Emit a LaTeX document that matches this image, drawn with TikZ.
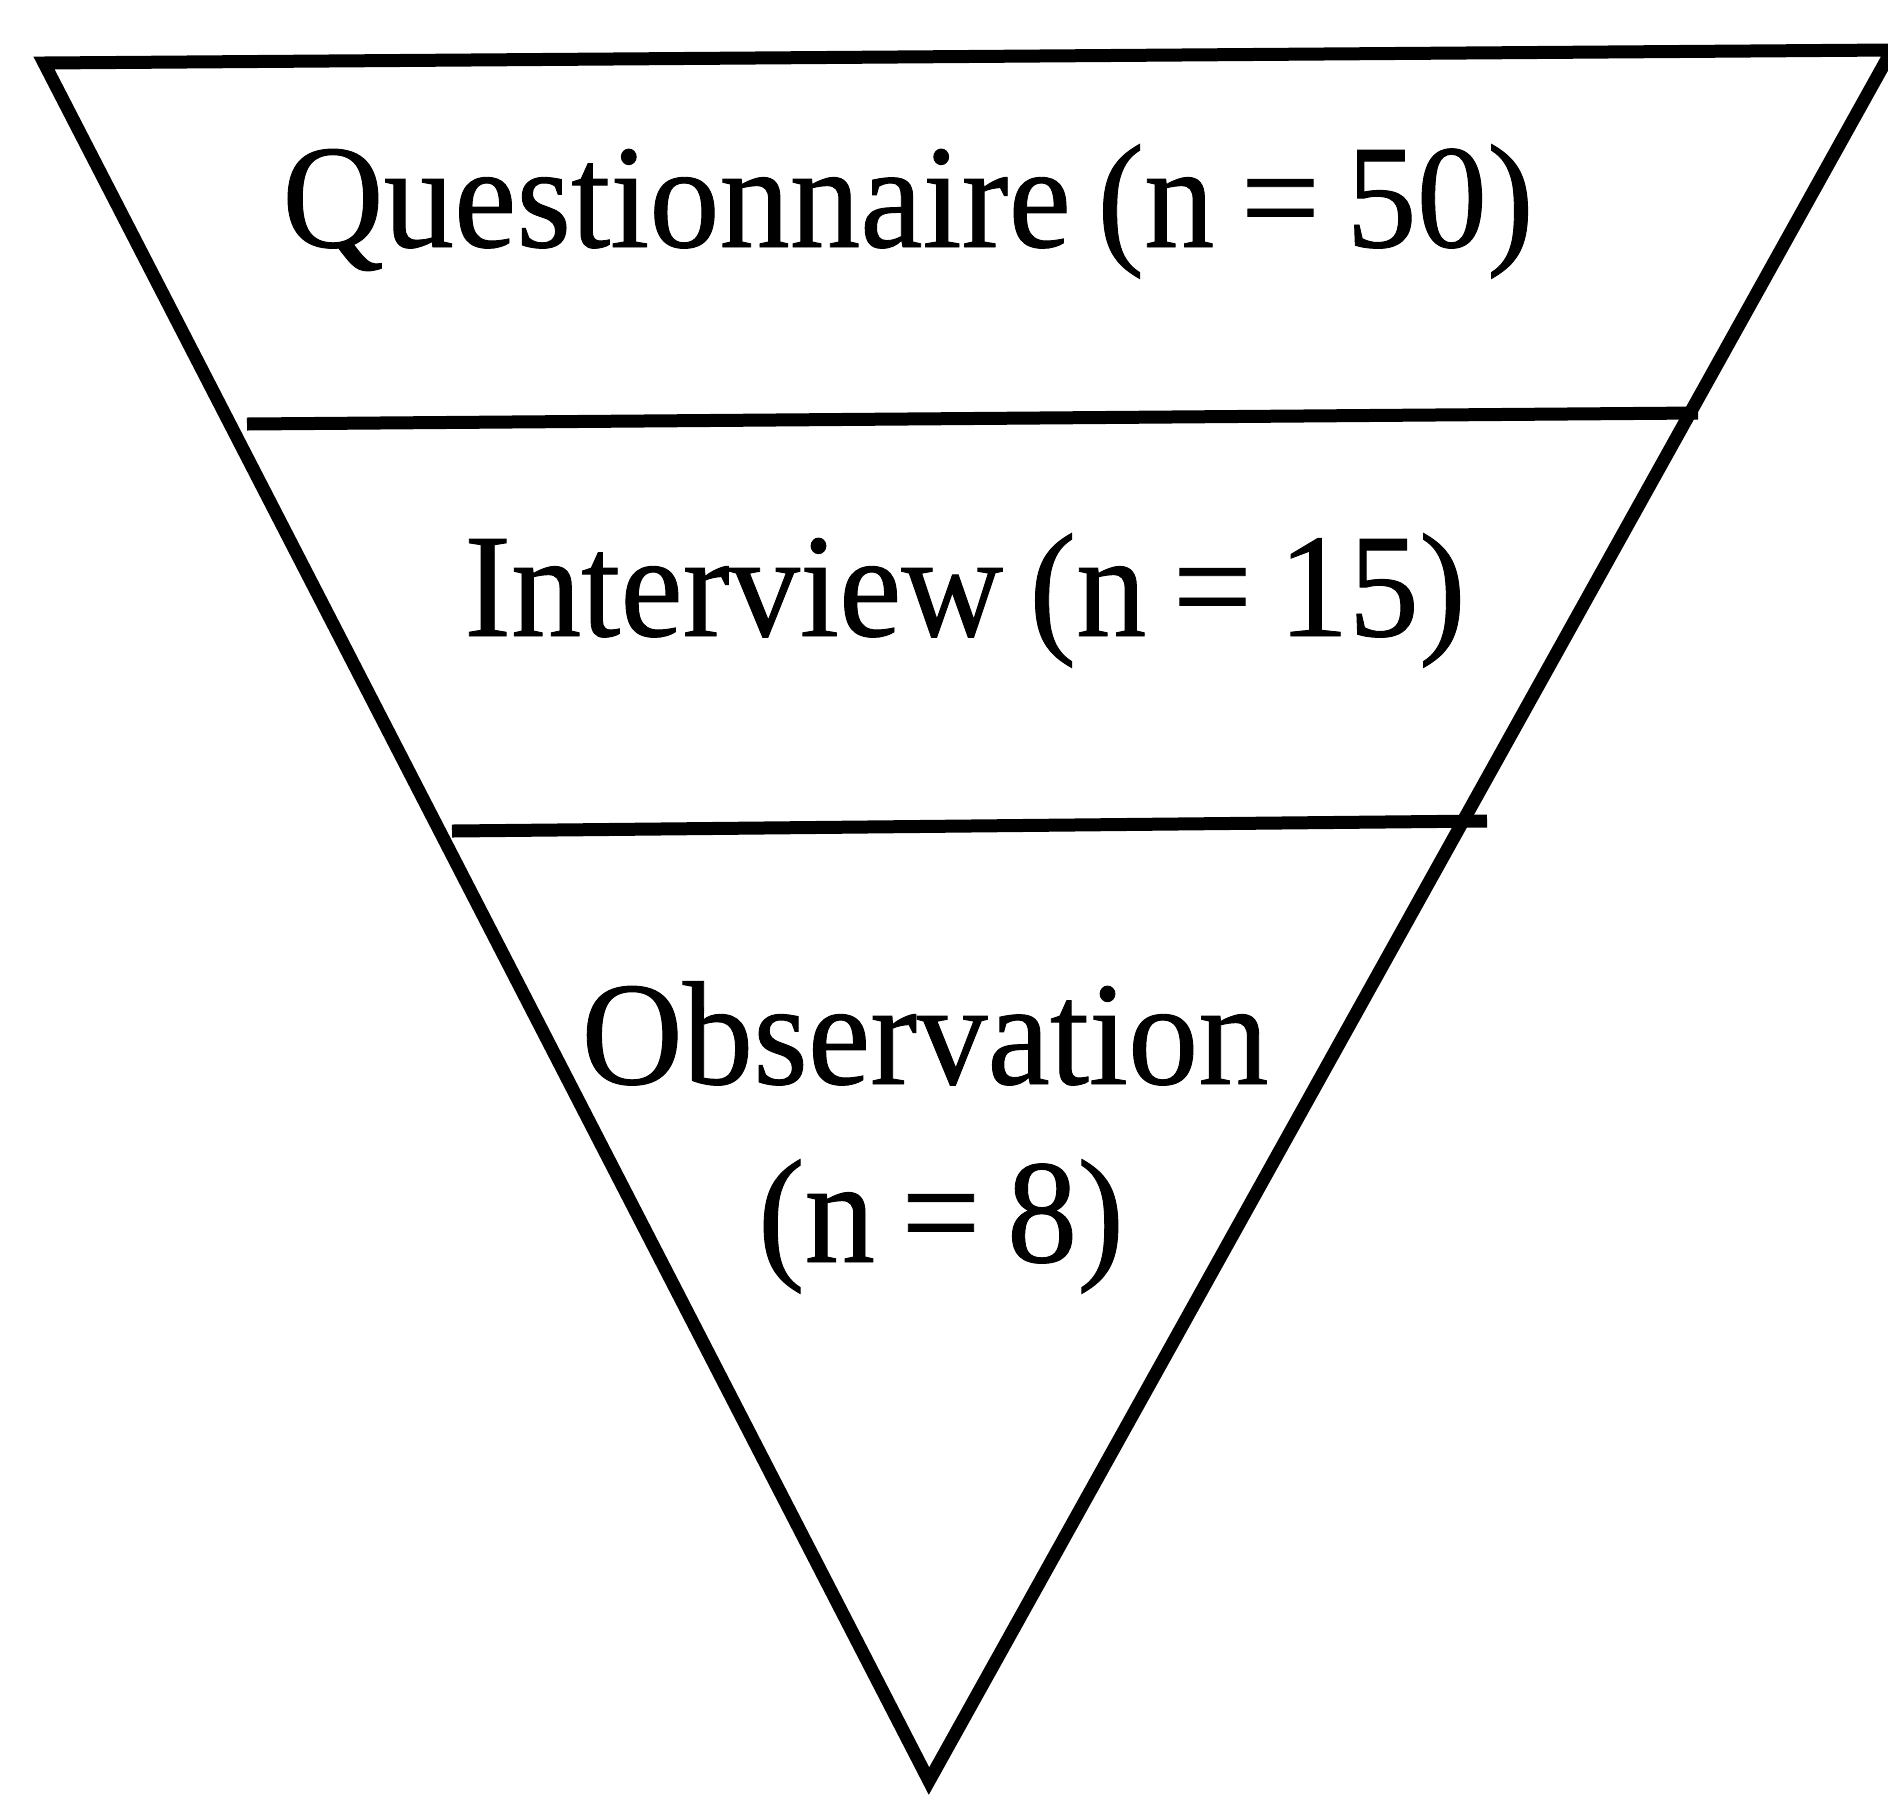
\documentclass[tikz,border=0pt]{standalone}
\usepackage{fontspec}
\setmainfont[FakeStretch=0.95,FakeBold=0.6,WordSpace=0.75]{Liberation Serif}

\tikzset{every picture/.style={line width=6.5pt}}

\begin{document}
\begin{tikzpicture}[x=0.5pt,y=0.5pt,yscale=-1,xscale=1]
	\useasboundingbox (0,0) rectangle (1888,1800); %set diagram size 1888 x 1800
	\tikzset{level text/.style={anchor=base,inner sep=0.75pt,align=center,font=\fontsize{74}{82}\selectfont}}
	
	%Triangle corners
	\coordinate (tl) at (44,63);
	\coordinate (tr) at (1892,50);
	\coordinate (apex) at (929,1781);
	%Level lines ends
	\coordinate (qa) at (247,424);
	\coordinate (qb) at (1698,413);
	\coordinate (ia) at (452,831);
	\coordinate (ib) at (1487,821);
	
	%Funnel
	\draw [line join=miter] (tl) -- (tr) -- (apex) -- cycle;
	%Straight Lines
	\draw (qa) -- (qb) ;
	%Straight Lines
	\draw (ia) -- (ib) ;
	
	% Text Node
	\node [level text] (quest) at (908,247) {Questionnaire (n = 50)};
	% Text Node
	\node [level text] (inter) at (965,636) {Interview (n = 15)};
	% Text Node
	\node [level text] (obs) at (925,1084) {Observation};
	% Text Node
	\node [level text] (obsn) at (941,1262) {(n = 8)};
	
\end{tikzpicture}
\end{document}
